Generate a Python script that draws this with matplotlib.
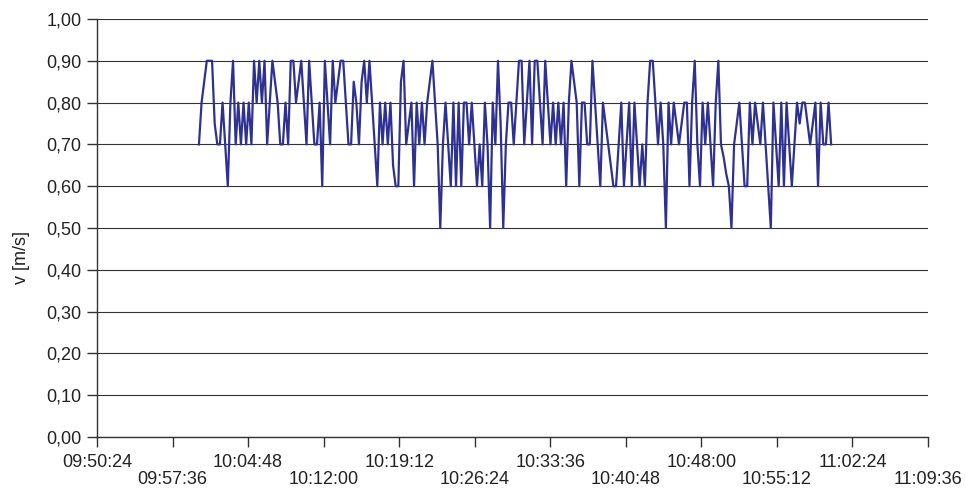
import numpy as np
import pandas as pd
import matplotlib
matplotlib.use("Agg")
import matplotlib.pyplot as plt
from matplotlib.ticker import FuncFormatter

plt.rcParams['font.family'] = ['Liberation Sans', 'DejaVu Sans']

# flow velocity, one reading every 15 s from 10:00:07
v = [
    0.70, 0.80, 0.85, 0.90, 0.90, 0.90, 0.75, 0.70, 0.70, 0.80, 0.70, 0.60, 0.80, 0.90, 0.70,
    0.80, 0.70, 0.80, 0.70, 0.80, 0.70, 0.90, 0.80, 0.90, 0.80, 0.90, 0.70, 0.80, 0.90,
    0.85, 0.80, 0.70, 0.70, 0.80, 0.70, 0.90, 0.90, 0.80, 0.85, 0.90, 0.80, 0.70, 0.90, 0.80,
    0.70, 0.70, 0.80, 0.60, 0.90, 0.80, 0.70, 0.90, 0.80, 0.85, 0.90, 0.90, 0.80, 0.70, 0.70,
    0.85, 0.80, 0.70, 0.85, 0.90, 0.80, 0.90, 0.80, 0.70, 0.60, 0.80, 0.70, 0.80, 0.70, 0.80,
    0.65, 0.60, 0.60, 0.85, 0.90, 0.70, 0.75, 0.80, 0.60, 0.80, 0.70, 0.80, 0.70, 0.80, 0.85,
    0.90, 0.80, 0.70, 0.50, 0.70, 0.80, 0.70, 0.60, 0.80, 0.60, 0.80, 0.60, 0.80, 0.80, 0.70,
    0.80, 0.70, 0.60, 0.70, 0.60, 0.80, 0.70, 0.50, 0.80, 0.70, 0.90, 0.75, 0.50, 0.70, 0.80,
    0.80, 0.70, 0.80, 0.90, 0.90, 0.70, 0.80, 0.90, 0.70, 0.90, 0.90, 0.80, 0.70, 0.90, 0.80,
    0.70, 0.80, 0.70, 0.80, 0.70, 0.80, 0.60, 0.80, 0.90, 0.85, 0.80, 0.60, 0.80, 0.80, 0.70,
    0.70, 0.90, 0.80, 0.70, 0.60, 0.80, 0.75, 0.70, 0.65, 0.60, 0.60, 0.70, 0.80, 0.60, 0.70,
    0.80, 0.60, 0.80, 0.70, 0.60, 0.70, 0.60, 0.80, 0.90, 0.90, 0.80, 0.70, 0.80, 0.70, 0.50,
    0.80, 0.70, 0.80, 0.75, 0.70, 0.75, 0.80, 0.80, 0.60, 0.80, 0.90, 0.70, 0.60, 0.80, 0.70,
    0.80, 0.70, 0.60, 0.80, 0.90, 0.70, 0.67, 0.63, 0.60, 0.50, 0.70, 0.75, 0.80, 0.70, 0.60,
    0.60, 0.80, 0.70, 0.80, 0.75, 0.70, 0.80, 0.70, 0.60, 0.50, 0.80, 0.70, 0.60, 0.80, 0.60,
    0.80, 0.70, 0.60, 0.70, 0.80, 0.75, 0.80, 0.80, 0.75, 0.70, 0.75, 0.80, 0.60, 0.80, 0.70,
    0.70, 0.80, 0.70,
]
t0 = "2000-01-01 10:00:07"
x_start, x_end = "2000-01-01 09:50:24", "2000-01-01 11:09:36"
y_ticks = np.round(np.arange(0, 1.01, 0.1), 2)

t = pd.date_range(t0, periods=len(v), freq="15s")
x_ticks = pd.date_range(x_start, x_end, freq="432s")

fig = plt.figure(figsize=(9.66, 4.88), dpi=100)
ax = fig.add_axes([0.1004, 0.1045, 0.8603, 0.8566])

ax.plot(t, v, color="#2e3192", lw=1.6, solid_joinstyle="round")

ax.set_xlim(pd.Timestamp(x_start), pd.Timestamp(x_end))
ax.set_ylim(0, 1)

# horizontal grid in dark grey
ax.set_yticks(y_ticks)
ax.yaxis.set_major_formatter(FuncFormatter(lambda y, p: f"{y:.2f}".replace(".", ",")))
ax.yaxis.grid(True, color="#333333", lw=0.8)
ax.set_axisbelow(True)

# time labels staggered over two rows
ax.set_xticks(x_ticks)
labels = [("" if i % 2 == 0 else "\n") + ts.strftime("%H:%M:%S") for i, ts in enumerate(x_ticks)]
ax.set_xticklabels(labels, linespacing=1.0)

for s in ["top", "right"]:
    ax.spines[s].set_visible(False)
for s in ["left", "bottom"]:
    ax.spines[s].set_color("#333333")
    ax.spines[s].set_linewidth(1.0)

ax.tick_params(axis="both", direction="out", length=7, width=1.0, color="#333333",
               labelsize=13, labelcolor="#222222")
ax.tick_params(axis="x", pad=5)
ax.tick_params(axis="y", pad=4)

ax.set_ylabel("v [m/s]", fontsize=13, color="#222222")
ax.yaxis.set_label_coords(-0.081, 0.43)

fig.savefig("out.png", dpi=100)
